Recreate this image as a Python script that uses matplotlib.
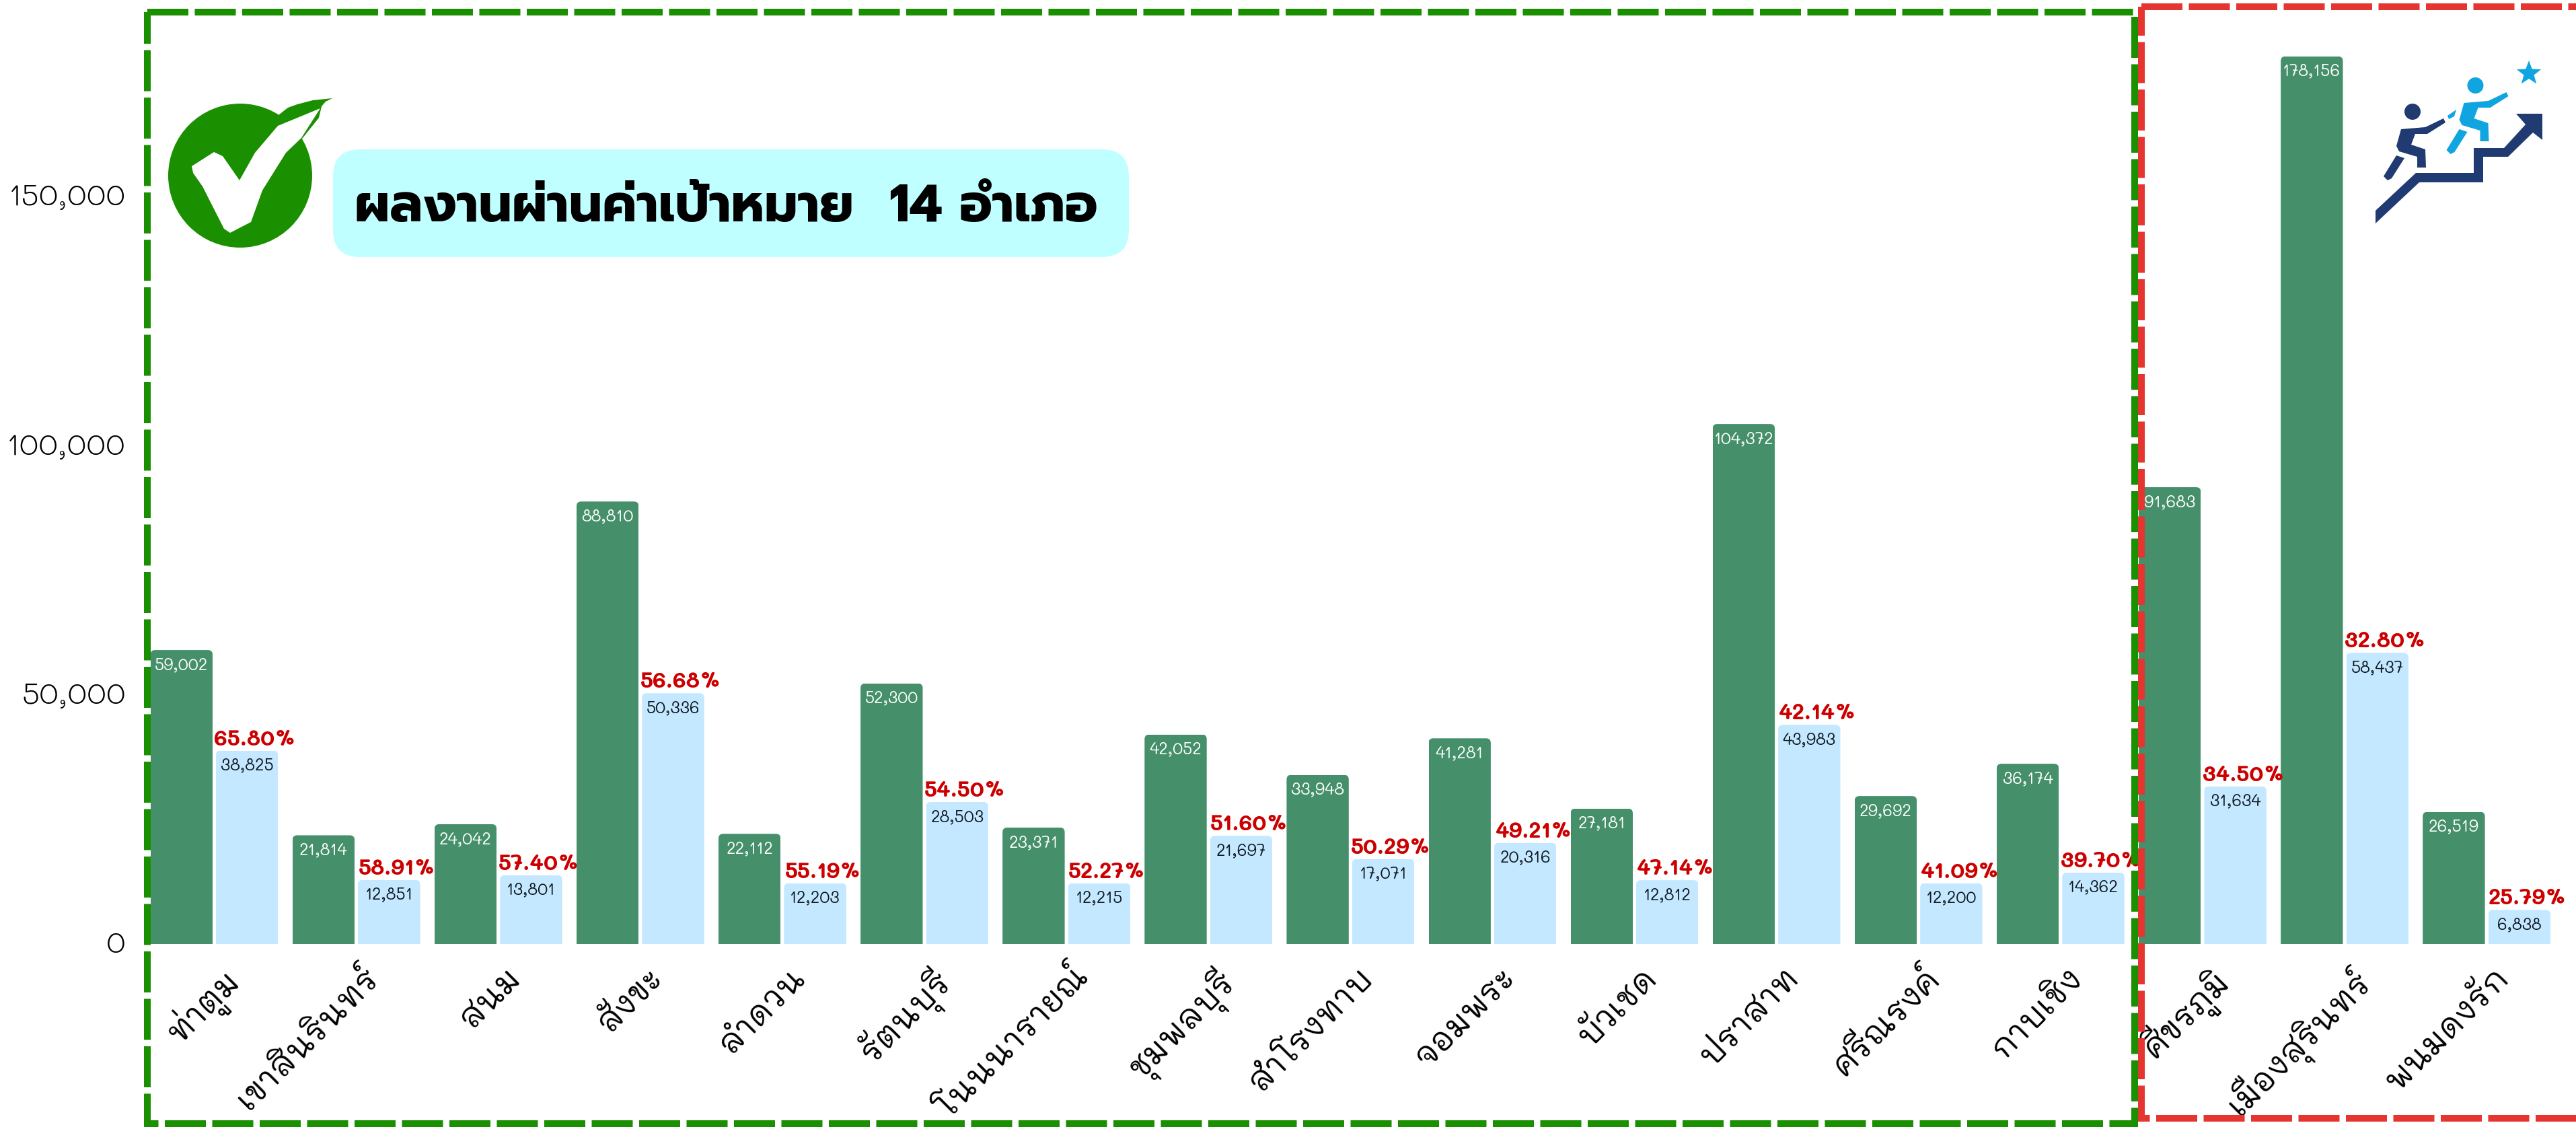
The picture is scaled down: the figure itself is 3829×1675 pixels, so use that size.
import matplotlib
matplotlib.use('Agg')
import matplotlib.pyplot as plt
import matplotlib.transforms as mt
from matplotlib.path import Path
from matplotlib.patches import FancyBboxPatch, Rectangle, Ellipse, Polygon
import numpy as np

green_vals = [59002,21814,24042,88810,22112,52300,23371,42052,33948,41281,27181,104372,29692,36174,91683,178156,26519]
blue_vals = [38825,12851,13801,50336,12203,28503,12215,21697,17071,20316,12812,43983,12200,14362,31634,58437,6838]
pct_vals = [65.80,58.91,57.40,56.68,55.19,54.50,52.27,51.60,50.29,49.21,47.14,42.14,41.09,39.70,34.50,32.80,25.79]
categories = ['ท่าตูม','เขาสินรินทร์','สนม','สังขะ','ลำดวน','รัตนบุรี','โนนนารายณ์','ชุมพลบุรี','สำโรงทาบ','จอมพระ','บัวเชด','ปราสาท','ศรีณรงค์','กาบเชิง','ศีขรภูมิ','เมืองสุรินทร์','พนมดงรัก']
y_ticks = [0,50000,100000,150000]
title = 'ผลงานผ่านค่าเป้าหมาย  14 อำเภอ'

W,H = 3829,1675
PT = 0.72  # points per pixel at dpi 100
fig = plt.figure(figsize=(W/100,H/100),dpi=100)
PITCH=211.1; X0=318.5; Y0=1403; PPU=0.007405; AL=215
ax = fig.add_axes([AL/W,(H-Y0)/H,(W-AL)/W,Y0/H])
ax.set_xlim((AL-X0)/PITCH,(W-X0)/PITCH)
ax.set_ylim(0,Y0/PPU)
for s in ax.spines.values(): s.set_visible(False)
ax.patch.set_visible(False)

F=['Mali','Loma','DejaVu Sans']
w=92.4/PITCH; g=5/PITCH
x=np.arange(len(categories))
b1=ax.bar(x-(w+g)/2,green_vals,width=w,color='#45906A',zorder=2)
b2=ax.bar(x+(w+g)/2,blue_vals,width=w,color='#C3E8FF',zorder=2)

# rounded top corners
rx=7/PITCH; ry=7/PPU
for bars in (b1,b2):
    for r in bars:
        x0,x1=r.get_x(),r.get_x()+r.get_width(); t=r.get_height()
        verts=[(x0,0),(x0,t-ry),(x0,t),(x0+rx,t),(x1-rx,t),(x1,t),(x1,t-ry),(x1,0),(x0,0)]
        codes=[Path.MOVETO,Path.LINETO,Path.CURVE3,Path.CURVE3,Path.LINETO,Path.CURVE3,Path.CURVE3,Path.LINETO,Path.CLOSEPOLY]
        r.set_clip_path(Path(verts,codes),ax.transData)

for i in x:
    ax.annotate(f'{green_vals[i]:,}',(i-(w+g)/2,green_vals[i]),xytext=(0,-9*PT),textcoords='offset points',ha='center',va='top',color='white',fontsize=17.5,family=F,fontweight=400,zorder=3,annotation_clip=False)
    ax.annotate(f'{blue_vals[i]:,}',(i+(w+g)/2,blue_vals[i]),xytext=(0,-9*PT),textcoords='offset points',ha='center',va='top',color='#101820',fontsize=17.5,family=F,fontweight=400,zorder=3,annotation_clip=False)
    ax.annotate(f'{pct_vals[i]:.2f}%',(i+(w+g)/2+12/PITCH,blue_vals[i]),xytext=(0,8*PT),textcoords='offset points',ha='center',va='baseline',color='#CC0000',fontsize=23.5,family=F,fontweight='bold',zorder=5,annotation_clip=False)

ax.set_xticks(x,categories,rotation=45,ha='right',rotation_mode='anchor',family=F,fontsize=35)
ax.set_yticks(y_ticks,[f'{v:,}' for v in y_ticks],family=F,fontsize=32.5,fontweight=300)
ax.tick_params(axis='both',length=0)
ax.tick_params(axis='y',pad=28*PT)
ax.tick_params(axis='x',pad=25*PT)
off=mt.ScaledTranslation(8/100,0,fig.dpi_scale_trans)
for l in ax.get_xticklabels(): l.set_transform(l.get_transform()+off)
off2=mt.ScaledTranslation(0,4/100,fig.dpi_scale_trans)
for l in ax.get_yticklabels(): l.set_transform(l.get_transform()+off2)

# figure-pixel transform (origin top-left)
P=mt.Affine2D().scale(1/W,-1/H).translate(0,1)+fig.transFigure
def add(artist,z=6):
    artist.set_transform(P); artist.set_zorder(z); fig.add_artist(artist)

# dashed frames
DASH=(0,(6.1,0.95))
add(Rectangle((218.5,18),2954.5,1652,fill=False,ec='#1A8F00',lw=10*PT,ls=DASH,capstyle='butt'),8)
add(Rectangle((3183,9.5),900,1652.5,fill=False,ec='#E53530',lw=10*PT,ls=DASH,capstyle='butt'),9)

# title box
add(FancyBboxPatch((535,262),1103,80,boxstyle='round,pad=40,rounding_size=40',fc='#C0FFFF',ec='none'),3)
fig.text(1079/W,1-329/H,title,ha='center',va='baseline',fontsize=56,fontweight='bold',family=['Prompt','Loma','DejaVu Sans'],color='black',zorder=5)

# check badge
GR='#1A8F00'
add(Ellipse((357,261),214,214,fc=GR,ec='none'),3)
add(Polygon([(405,178),(414,171),(428,160),(442,155),(465,149),(494,146),(484,151),(478,158),(474,175),(450,205),(425,227)],fc=GR,ec='none'),3)
add(Polygon([(476,161),(448,205),(425,227),(390,283),(373,330),(342,346),(333,340),(301,277),(287,257),(285,247),(318,226),(331,232),(356,268),(379,227),(413,187)],fc='white',ec='none',joinstyle='round'),4)

# climbing icon
NAVY='#203A72'; CY='#10A5E0'
add(Polygon([(3531,313),(3531,332),(3596,271),(3691,271),(3691,233),(3728,233),(3765,197),(3779,208),(3779,169),(3740,169),(3754,185),(3722,220),(3677,220),(3677,257),(3591,257)],fc=NAVY,ec='none'),4)
body=[(3632,176),(3635,182),(3608,199),(3590,199),(3584,215),(3605,222),(3606,249),(3593,249),(3593,233),(3566,225),(3562,217),(3569,192),(3605,189)]
leg=[(3562,231),(3574,235),(3555,265),(3549,268),(3543,262)]
for (dx,dy,c) in [(0,0,NAVY),(93.5,-39,CY)]:
    add(Polygon([(a+dx,b+dy) for a,b in body],fc=c,ec='none'),4)
    add(Polygon([(a+dx,b+dy) for a,b in leg],fc=c,ec='none'),4)
    add(Ellipse((3586+dx,166+dy),24,24,fc=c,ec='none'),4)
add(Polygon([(3651,163),(3648,173),(3640,177),(3638,172)],fc=CY,ec='none'),4)
ang=np.deg2rad(np.arange(0,360,36)-90)
rad=np.where(np.arange(10)%2==0,19,8)
add(Polygon(np.c_[3759+rad*np.cos(ang),109+rad*np.sin(ang)],fc=CY,ec='none'),4)

fig.savefig('out.png',dpi=100)
